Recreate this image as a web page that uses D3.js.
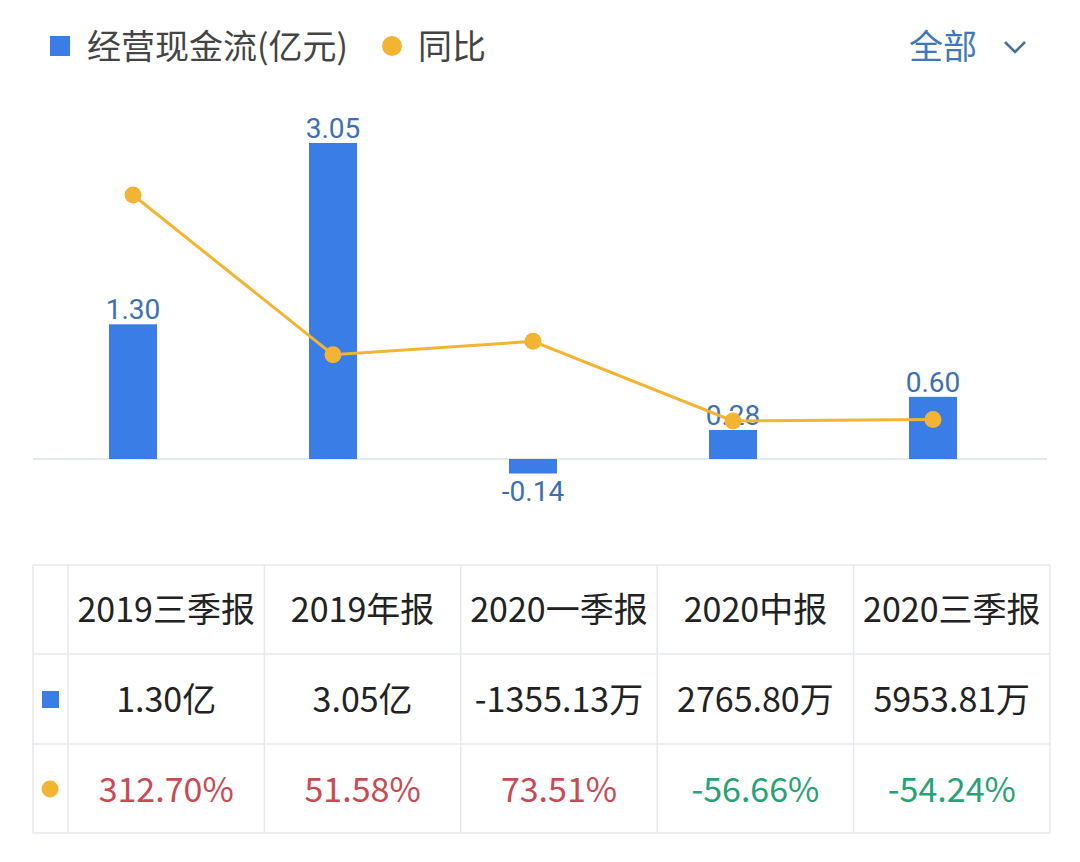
<!DOCTYPE html>
<html>
<head>
<meta charset="utf-8">
<script src="https://cdn.jsdelivr.net/npm/d3@7"></script>
<style>
	body { margin: 0; background: #fff; }
	svg { display: block; font-family: "Noto Sans CJK SC", "Noto Sans", sans-serif; }
</style>
</head>
<body>
<svg id="chart" width="1080" height="862"></svg>
<script>
const categories = ['2019三季报', '2019年报', '2020一季报', '2020中报', '2020三季报'];
const cashFlow = [1.30, 3.05, -0.14, 0.28, 0.60];
const cashFlowText = ['1.30亿', '3.05亿', '-1355.13万', '2765.80万', '5953.81万'];
const yoy = [312.70, 51.58, 73.51, -56.66, -54.24];

const blue = '#3a7de6';
const labelBlue = '#3d6fb3';
const orange = '#f3b433';
const red = '#c94a55';
const green = '#27a274';

const svg = d3.select('#chart');

// legend
const legend = svg.append('g');
legend.append('rect').attr('x', 50).attr('y', 36).attr('width', 20).attr('height', 20).attr('fill', blue);
legend.append('text').attr('x', 87).attr('y', 59).attr('font-size', 34).attr('fill', '#444').text('经营现金流(亿元)');
legend.append('circle').attr('cx', 392).attr('cy', 46).attr('r', 10).attr('fill', orange);
legend.append('text').attr('x', 418).attr('y', 59).attr('font-size', 34).attr('fill', '#444').text('同比');

svg.append('text').attr('x', 909).attr('y', 59).attr('font-size', 34).attr('fill', '#3f77b8').text('全部');
svg.append('path').attr('d', 'M1005,42 L1015,52 L1025,42').attr('fill', 'none')
	.attr('stroke', '#4a6f96').attr('stroke-width', 2.5);

// scales
const x = d3.scaleBand().domain(categories).range([33, 1033]).paddingInner(0.76).paddingOuter(0.38);
const y = d3.scaleLinear().domain([0, 3.05]).range([459, 143]);
const yLine = d3.scaleLinear().domain([-56.66, 312.70]).range([421, 195]);

svg.append('line').attr('x1', 33).attr('x2', 1047).attr('y1', y(0)).attr('y2', y(0))
	.attr('stroke', '#dde3ea').attr('stroke-width', 1.5);

svg.append('g').selectAll('rect')
	.data(categories)
	.join('rect')
	.attr('x', d => x(d))
	.attr('width', x.bandwidth())
	.attr('y', (d, i) => y(Math.max(0, cashFlow[i])))
	.attr('height', (d, i) => Math.abs(y(cashFlow[i]) - y(0)))
	.attr('fill', blue);

svg.append('g').selectAll('text')
	.data(categories)
	.join('text')
	.attr('x', d => x(d) + x.bandwidth() / 2)
	.attr('y', (d, i) => cashFlow[i] >= 0 ? y(cashFlow[i]) - 5 : y(cashFlow[i]) + 27)
	.attr('text-anchor', 'middle')
	.attr('font-family', 'Roboto, sans-serif')
	.attr('font-size', 28)
	.attr('fill', labelBlue)
	.text((d, i) => cashFlow[i].toFixed(2));

const line = d3.line()
	.x((d, i) => x(categories[i]) + x.bandwidth() / 2)
	.y(d => yLine(d));

svg.append('path').datum(yoy).attr('d', line)
	.attr('fill', 'none').attr('stroke', orange).attr('stroke-width', 3);

svg.append('g').selectAll('circle')
	.data(yoy)
	.join('circle')
	.attr('cx', (d, i) => x(categories[i]) + x.bandwidth() / 2)
	.attr('cy', d => yLine(d))
	.attr('r', 8.5)
	.attr('fill', orange);

// table
const col = d3.scaleBand().domain(categories).range([68, 1050]);
const rowY = [565, 654, 744, 833];
const grid = svg.append('g').attr('stroke', '#e6e9ed').attr('stroke-width', 1.5);
rowY.forEach(ry => grid.append('line').attr('x1', 33).attr('x2', 1050).attr('y1', ry).attr('y2', ry));
[33, ...categories.map(c => col(c)), 1050].forEach(cx =>
	grid.append('line').attr('x1', cx).attr('x2', cx).attr('y1', 565).attr('y2', 833));

const cellCenter = d => col(d) + col.bandwidth() / 2;
const table = svg.append('g').attr('text-anchor', 'middle').attr('font-size', 34);

table.selectAll('.head').data(categories).join('text')
	.attr('class', 'head')
	.attr('x', cellCenter).attr('y', 622)
	.attr('fill', '#222')
	.text(d => d);

table.selectAll('.val').data(categories).join('text')
	.attr('class', 'val')
	.attr('x', cellCenter).attr('y', 712)
	.attr('fill', '#222')
	.text((d, i) => cashFlowText[i]);

table.selectAll('.pct').data(categories).join('text')
	.attr('class', 'pct')
	.attr('x', cellCenter).attr('y', 802)
	.attr('fill', (d, i) => yoy[i] >= 0 ? red : green)
	.text((d, i) => yoy[i].toFixed(2) + '%');

svg.append('rect').attr('x', 42).attr('y', 691).attr('width', 17).attr('height', 17).attr('fill', blue);
svg.append('circle').attr('cx', 50).attr('cy', 789).attr('r', 8.5).attr('fill', orange);
</script>
</body>
</html>
